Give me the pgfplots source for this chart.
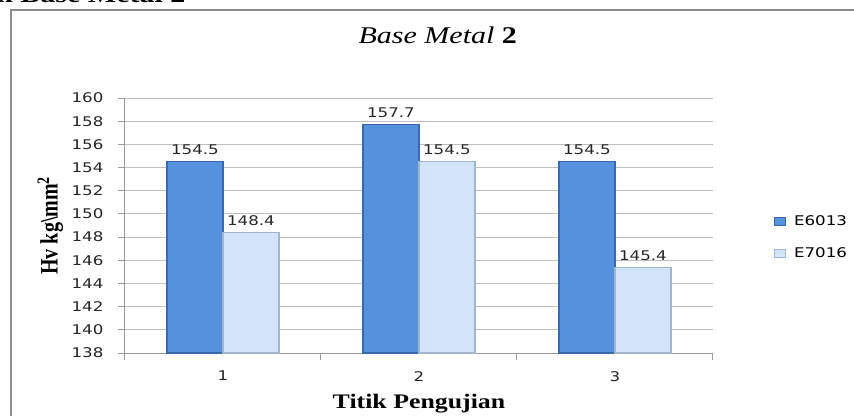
\documentclass[border=0pt]{standalone}
\usepackage{pgfplots}
\pgfplotsset{compat=1.18}
\usepackage{fontspec}
\setmainfont{Liberation Serif}
\newfontfamily\tnr[FakeStretch=1.25]{Liberation Serif}
\newfontfamily\tnrplain{Liberation Serif}
\newfontfamily\dvs[FakeStretch=1.25]{DejaVu Sans}
\definecolor{darkbar}{HTML}{5591DC}
\definecolor{darkedge}{HTML}{3A6AAE}
\definecolor{lightbar}{HTML}{D2E4FA}
\definecolor{lightedge}{HTML}{A4B6CC}
\definecolor{gridc}{HTML}{BFBFBF}
\definecolor{axc}{HTML}{9A9A9A}
\begin{document}
\begin{tikzpicture}
\useasboundingbox (0,0) rectangle (640.5pt,311.25pt);
\draw[line width=1.5pt, color=black!45] (8.6pt,-5pt) -- (8.6pt,303.4pt) -- (660pt,303.4pt);
\node[anchor=base west, font=\tnr\bfseries\fontsize{18}{20}\selectfont, inner sep=0pt] at (-3pt,309.5pt) {n Base Metal 2};
\begin{axis}[
  at={(93.75pt,46.5pt)}, anchor=south west,
  scale only axis, width=441pt, height=191.25pt,
  ybar=0pt, bar width=42pt,
  xmin=0.5, xmax=3.5, ymin=138, ymax=160,
  ytick={138,140,...,160},
  xtick={0.5,1.5,2.5,3.5}, xticklabels={},
  extra x ticks={1,2,3}, extra x tick labels={1,2,3},
  extra x tick style={major tick length=0pt, grid=none},
  axis x line*=bottom, axis y line*=left,
  axis line style={draw=axc, line width=0.75pt},
  tick align=outside, major tick length=5pt,
  tick style={draw=axc, line width=0.75pt},
  ymajorgrids, grid style={draw=gridc, line width=0.75pt},
  /pgf/number format/assume math mode=true,
  tick label style={font=\dvs\fontsize{10}{12}\selectfont, text=black!85},
  yticklabel style={anchor=east, inner sep=0pt, xshift=-11pt},
  xticklabel style={anchor=north, inner sep=0pt, yshift=-13.5pt},
  title={\textit{Base Metal} \textbf{2}},
  title style={font=\tnr\fontsize{18}{20}\selectfont, at={(axis description cs:0.532,1)}, anchor=base, yshift=35pt},
  xlabel={Titik Pengujian},
  every axis x label/.style={at={(axis description cs:0.5,0)}, anchor=center, yshift=-38pt, font=\tnr\bfseries\fontsize{15.5}{17}\selectfont},
  ylabel={Hv kg\textbackslash mm\textsuperscript{2}},
  every axis y label/.style={at={(axis description cs:0,0.5)}, xshift=-56pt, rotate=90, yscale=1.25, anchor=center, font=\tnrplain\bfseries\fontsize{15}{17}\selectfont},
  nodes near coords, point meta=explicit symbolic,
  nodes near coords style={font=\dvs\fontsize{10}{12}\selectfont, text=black!85, anchor=south, inner sep=0pt, yshift=4.5pt},
  legend style={at={(axis description cs:1.097,0.452)}, anchor=west, draw=none, fill=none,
    font=\dvs\fontsize{10}{12}\selectfont, row sep=10pt, legend cell align=left,
    nodes={inner sep=2.5pt}},
]
\addplot[fill=darkbar, draw=darkedge, line width=1pt,
  legend image code/.code={\draw[fill=darkbar, draw=darkedge, line width=0.6pt] (0pt,-3pt) rectangle (8pt,3pt); \path (11.5pt,0pt);}]
  coordinates {(1,154.5)[154.5] (2,157.7)[157.7] (3,154.5)[154.5]};
\addplot[fill=lightbar, draw=lightedge, line width=1pt,
  legend image code/.code={\draw[fill=lightbar, draw=lightedge, line width=0.6pt] (0pt,-3pt) rectangle (8pt,3pt); \path (11.5pt,0pt);}]
  coordinates {(1,148.4)[148.4] (2,154.5)[154.5] (3,145.4)[145.4]};
\legend{E6013,E7016}
\end{axis}
\end{tikzpicture}
\end{document}
